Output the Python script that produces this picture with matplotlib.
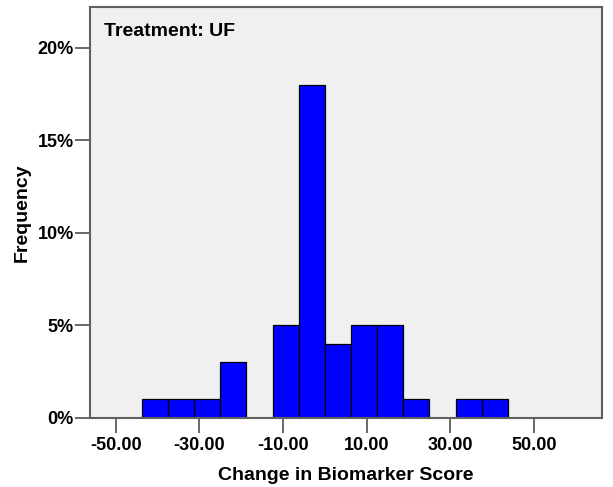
import numpy as np
import matplotlib.pyplot as plt
from matplotlib.ticker import FuncFormatter

# Histogram bins (width 6.25) and percent heights
bin_edges = [-43.75 + 6.25 * i for i in range(15)]
percents = [1, 1, 1, 3, 0, 5, 18, 4, 5, 5, 1, 0, 1, 1]
x_ticks = [-50, -30, -10, 10, 30, 50]
y_ticks = [0, 5, 10, 15, 20]

plt.rcParams['font.family'] = ['Liberation Sans', 'DejaVu Sans']
plt.rcParams['font.weight'] = 'bold'

fig = plt.figure(figsize=(6.13, 4.87), dpi=100)
ax = fig.add_axes([0.1473, 0.1423, 0.9816 - 0.1473, 0.9856 - 0.1423])
ax.set_facecolor('#F0F0F0')

edges = np.array(bin_edges)
ax.bar(edges[:-1], percents, width=np.diff(edges), align='edge',
       color='#0000FF', edgecolor='black', linewidth=0.9)

ax.set_xlim(-56.1, 66.2)
ax.set_ylim(0, 22.2)
ax.set_xticks(x_ticks)
ax.set_yticks(y_ticks)
ax.xaxis.set_major_formatter(FuncFormatter(lambda v, p: '%.2f' % v))
ax.yaxis.set_major_formatter(FuncFormatter(lambda v, p: '%d%%' % v))
ax.tick_params(axis='both', direction='out', length=11, width=1.2,
               color='#505050', labelsize=13)
ax.tick_params(axis='y', pad=1)
ax.tick_params(axis='x', pad=3)

for s in ax.spines.values():
    s.set_color('#606060')
    s.set_linewidth(1.5)

ax.set_xlabel('Change in Biomarker Score', fontsize=14, fontweight='bold', labelpad=9)
ax.set_ylabel('Frequency', fontsize=14, fontweight='bold', labelpad=5)
ax.text(0.027, 0.96, 'Treatment: UF', transform=ax.transAxes, fontsize=14,
        fontweight='bold', va='top', ha='left')

fig.savefig('out.png', dpi=100)
